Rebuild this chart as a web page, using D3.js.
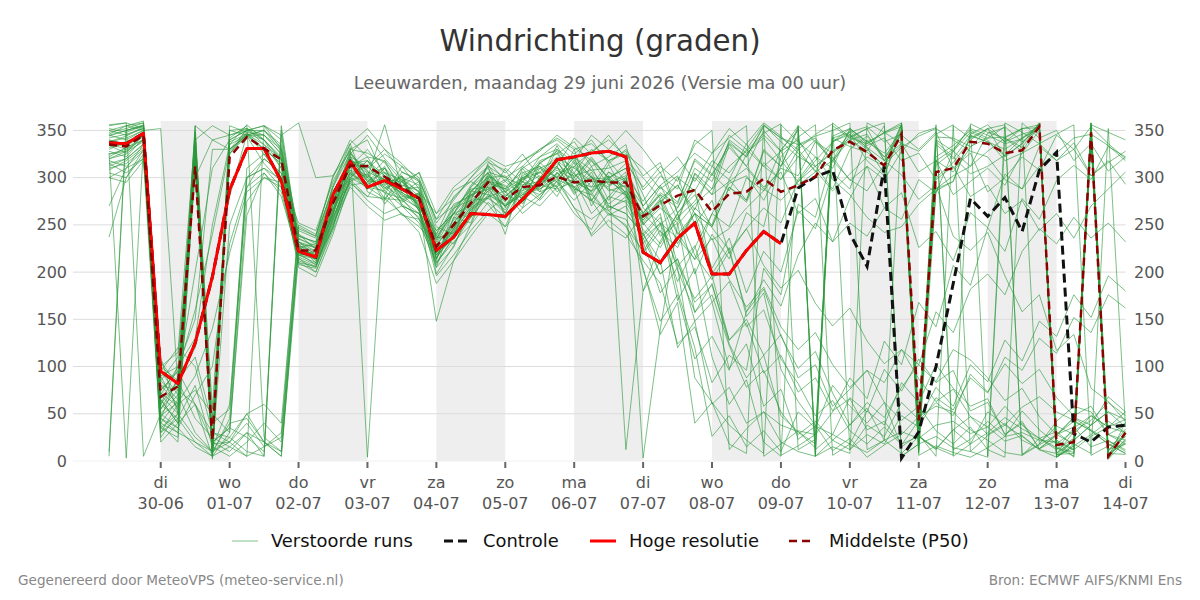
<!DOCTYPE html>
<html>
<head>
<meta charset="utf-8">
<script src="https://cdn.jsdelivr.net/npm/d3@7"></script>
<style>
  body { margin: 0; background: #fff; }
  svg { display: block; font-family: "DejaVu Sans", sans-serif; }
</style>
</head>
<body>
<svg id="chart" width="1200" height="600"></svg>
<script>
// windrichting pluim: ensemble + controle + hres + p50

const titleText = "Windrichting (graden)";
const subtitleText = "Leeuwarden, maandag 29 juni 2026 (Versie ma 00 uur)";
const footLeft = "Gegenereerd door MeteoVPS (meteo-service.nl)";
const footRight = "Bron: ECMWF AIFS/KNMI Ens";

const dayNames = ["zo", "ma", "di", "wo", "do", "vr", "za"];
const yTicks = [0, 50, 100, 150, 200, 250, 300, 350];
// dagen met grijze achtergrond
const shadedDays = ["2026-06-30", "2026-07-02", "2026-07-04", "2026-07-06", "2026-07-08", "2026-07-10", "2026-07-12"];

// eerste tijdstap 29-06 06 uur, elke 6 uur
const firstStep = Date.UTC(2026, 5, 29, 6);
const stepCount = 60;

// Hoge resolutie (tot 09-07 00 uur)
const hres = [337, 336, 347, 95, 82, 125, 195, 287, 331, 331,
  296, 222, 216, 282, 317, 290, 297, 288, 278, 223,
  237, 262, 261, 259, 277, 296, 319, 322, 326, 328,
  322, 221, 210, 236, 252, 198, 198, 223, 243, 230];

// Controle
const controle = [337, 336, 347, 95, 82, 125, 195, 287, 331, 331,
  296, 222, 216, 282, 317, 290, 297, 288, 278, 223,
  237, 262, 261, 259, 277, 296, 319, 322, 326, 328,
  322, 221, 210, 236, 252, 198, 198, 223, 243, 230,
  289, 301, 308, 241, 206, 312, 3, 31, 100, 188,
  278, 259, 279, 243, 308, 327, 29, 20, 36, 38];

// Middelste (P50)
const p50 = [335, 333, 345, 68, 79, 312, 22, 322, 343, 331,
  319, 223, 223, 273, 313, 312, 301, 290, 278, 227,
  250, 273, 295, 277, 290, 292, 301, 295, 297, 295,
  295, 259, 271, 281, 287, 264, 283, 285, 299, 285,
  292, 301, 329, 338, 327, 313, 346, 43, 306, 310,
  338, 336, 326, 329, 354, 17, 20, 348, 5, 30];

// Verstoorde runs, één rij per lid
const members = [
  [338, 342, 350, 72, 58, 330, 12, 340, 350, 340, 320, 228, 210, 262, 322, 296, 312, 270, 262, 208, 238, 285, 305, 268, 300, 285, 318, 290, 275, 306, 288, 250, 272, 300, 286, 318, 305, 330, 312, 298, 322, 340, 316, 345, 330, 312, 352, 18, 335, 320, 345, 338, 330, 342, 356, 12, 24, 350, 6, 28],
  [325, 330, 345, 60, 85, 110, 40, 55, 290, 320, 305, 212, 205, 248, 300, 318, 289, 301, 284, 236, 262, 258, 296, 292, 272, 300, 296, 318, 302, 265, 248, 222, 250, 268, 300, 282, 296, 310, 288, 276, 296, 318, 338, 352, 338, 326, 348, 35, 300, 316, 340, 352, 322, 336, 358, 8, 31, 345, 4, 41],
  [345, 350, 355, 90, 100, 150, 330, 330, 345, 330, 300, 238, 232, 292, 336, 285, 276, 306, 296, 198, 228, 266, 278, 310, 295, 318, 325, 338, 312, 322, 335, 268, 252, 236, 214, 262, 294, 302, 276, 312, 334, 342, 318, 298, 286, 314, 332, 344, 352, 340, 328, 322, 298, 288, 312, 326, 342, 346, 334, 318],
  [310, 315, 330, 45, 30, 20, 10, 25, 50, 20, 5, 225, 218, 262, 312, 330, 305, 282, 266, 218, 245, 290, 312, 256, 280, 270, 290, 262, 245, 280, 300, 232, 178, 205, 88, 62, 38, 22, 8, 356, 338, 322, 298, 282, 258, 242, 248, 272, 288, 302, 312, 328, 342, 352, 18, 42, 58, 52, 28, 22],
  [350, 345, 352, 40, 65, 355, 340, 330, 350, 355, 345, 358, 300, 302, 328, 300, 356, 288, 270, 240, 280, 296, 285, 240, 305, 312, 285, 300, 322, 298, 315, 290, 312, 296, 335, 350, 12, 34, 52, 38, 31, 18, 344, 352, 336, 348, 358, 22, 318, 330, 352, 345, 336, 341, 355, 14, 9, 352, 2, 21],
  [320, 325, 340, 80, 60, 320, 8, 250, 300, 310, 290, 220, 214, 255, 308, 290, 278, 262, 248, 228, 255, 280, 302, 285, 262, 278, 305, 288, 238, 255, 240, 212, 188, 124, 142, 83, 112, 96, 204, 176, 272, 258, 322, 297, 312, 268, 284, 226, 243, 212, 263, 247, 304, 288, 333, 318, 337, 302, 318, 293],
  [300, 310, 320, 110, 50, 345, 15, 335, 345, 345, 330, 246, 238, 300, 340, 322, 318, 296, 305, 252, 276, 300, 318, 296, 318, 330, 340, 325, 340, 315, 330, 302, 316, 262, 288, 198, 226, 153, 178, 97, 63, 38, 11, 24, 4, 17, 28, 47, 58, 52, 33, 22, 9, 6, 17, 28, 46, 33, 21, 12],
  [10, 355, 358, 55, 75, 60, 5, 30, 275, 300, 295, 205, 195, 240, 296, 276, 262, 270, 252, 210, 232, 250, 274, 258, 290, 276, 296, 268, 256, 270, 262, 240, 212, 236, 262, 248, 290, 276, 330, 312, 352, 6, 338, 346, 318, 302, 350, 37, 288, 296, 346, 356, 338, 346, 352, 6, 13, 340, 8, 18],
  [340, 335, 345, 30, 45, 20, 5, 355, 348, 345, 325, 232, 226, 280, 315, 310, 325, 312, 288, 232, 268, 286, 300, 302, 276, 294, 330, 305, 285, 300, 280, 260, 282, 268, 310, 296, 338, 322, 355, 342, 330, 306, 318, 340, 328, 355, 5, 18, 340, 328, 355, 5, 342, 332, 358, 4, 18, 8, 352, 36],
  [330, 338, 348, 100, 85, 120, 200, 280, 346, 335, 310, 226, 218, 270, 330, 340, 300, 278, 268, 196, 218, 244, 265, 280, 298, 305, 312, 342, 325, 345, 320, 282, 238, 252, 157, 188, 124, 88, 112, 48, 31, 14, 358, 343, 352, 318, 303, 277, 292, 238, 223, 242, 196, 158, 176, 117, 134, 77, 63, 42],
  [305, 300, 325, 65, 40, 330, 18, 20, 40, 15, 30, 250, 240, 286, 312, 302, 288, 298, 285, 262, 290, 305, 320, 305, 325, 300, 290, 305, 330, 318, 325, 310, 288, 302, 250, 276, 220, 246, 268, 252, 298, 322, 310, 352, 338, 347, 354, 30, 313, 328, 348, 340, 318, 326, 350, 22, 12, 354, 10, 34],
  [355, 358, 5, 50, 35, 70, 100, 230, 290, 305, 280, 216, 208, 252, 290, 270, 255, 262, 242, 188, 212, 238, 262, 248, 268, 282, 300, 268, 240, 262, 250, 205, 134, 168, 40, 62, 18, 8, 356, 342, 335, 344, 350, 358, 12, 22, 358, 26, 14, 6, 357, 348, 342, 328, 356, 4, 16, 342, 12, 26],
  [315, 320, 335, 85, 110, 300, 340, 345, 350, 350, 335, 235, 228, 276, 318, 312, 330, 315, 296, 256, 270, 282, 296, 288, 310, 322, 336, 318, 345, 330, 350, 330, 305, 322, 296, 326, 342, 355, 5, 18, 32, 28, 52, 88, 66, 127, 102, 168, 142, 207, 186, 247, 222, 278, 256, 297, 313, 298, 333, 322],
  [336, 330, 340, 75, 95, 160, 240, 330, 344, 330, 315, 222, 216, 265, 320, 298, 292, 278, 282, 220, 246, 276, 290, 280, 296, 288, 302, 290, 300, 288, 282, 255, 274, 292, 262, 234, 246, 268, 286, 310, 302, 338, 318, 350, 334, 342, 318, 326, 298, 312, 280, 292, 262, 276, 244, 262, 236, 270, 288, 306],
  [237, 300, 330, 35, 25, 318, 20, 35, 25, 10, 355, 230, 226, 272, 305, 288, 300, 290, 265, 215, 242, 262, 286, 270, 282, 298, 315, 300, 282, 260, 270, 236, 198, 214, 168, 186, 128, 146, 93, 112, 73, 88, 53, 66, 33, 42, 18, 26, 12, 33, 47, 36, 58, 38, 24, 31, 16, 28, 42, 30],
  [270, 310, 335, 50, 70, 30, 10, 40, 45, 20, 5, 215, 200, 244, 292, 295, 284, 260, 256, 205, 226, 268, 280, 262, 275, 292, 288, 296, 286, 302, 12, 180, 233, 262, 198, 240, 214, 263, 248, 322, 343, 356, 6, 18, 9, 22, 31, 24, 38, 42, 29, 36, 21, 27, 12, 8, 22, 38, 52, 44],
  [348, 352, 358, 95, 70, 340, 6, 325, 352, 335, 320, 240, 230, 274, 325, 345, 320, 300, 292, 244, 262, 284, 306, 300, 292, 306, 322, 310, 296, 295, 302, 275, 302, 288, 340, 326, 352, 335, 312, 328, 292, 306, 338, 348, 332, 318, 356, 16, 322, 334, 350, 342, 354, 338, 352, 28, 18, 336, 6, 22],
  [328, 322, 342, 20, 40, 60, 20, 10, 30, 5, 350, 224, 218, 266, 316, 296, 295, 284, 275, 228, 252, 278, 298, 276, 292, 296, 310, 302, 308, 310, 318, 300, 278, 292, 266, 312, 298, 336, 358, 344, 326, 308, 286, 304, 322, 312, 355, 46, 338, 322, 304, 312, 324, 342, 352, 6, 22, 358, 28, 18],
  [342, 346, 352, 45, 90, 200, 310, 340, 350, 355, 340, 232, 222, 278, 318, 305, 310, 292, 286, 222, 246, 272, 294, 288, 300, 310, 318, 322, 300, 298, 290, 262, 243, 226, 268, 250, 298, 276, 328, 312, 354, 12, 28, 18, 53, 38, 83, 62, 102, 77, 58, 66, 28, 40, 13, 22, 4, 358, 12, 18],
  [318, 312, 328, 105, 80, 325, 14, 60, 300, 310, 298, 210, 206, 250, 300, 290, 286, 270, 262, 215, 240, 270, 288, 270, 286, 294, 304, 312, 328, 340, 322, 242, 198, 214, 148, 168, 98, 124, 58, 76, 23, 37, 28, 67, 52, 97, 74, 108, 83, 96, 53, 62, 28, 42, 13, 27, 46, 38, 68, 52],
  [352, 348, 355, 25, 50, 340, 55, 330, 345, 350, 332, 228, 220, 275, 315, 318, 302, 288, 290, 238, 262, 290, 305, 285, 298, 315, 328, 296, 290, 296, 285, 255, 278, 240, 262, 204, 236, 178, 222, 200, 265, 246, 305, 288, 340, 322, 345, 330, 348, 310, 326, 285, 300, 322, 308, 345, 330, 354, 336, 320],
  [332, 336, 344, 60, 45, 80, 15, 5, 20, 40, 20, 244, 236, 290, 332, 4, 282, 312, 300, 248, 240, 262, 316, 308, 282, 290, 312, 284, 306, 270, 262, 240, 262, 180, 120, 26, 48, 15, 32, 10, 52, 35, 80, 58, 40, 62, 15, 28, 5, 355, 342, 352, 356, 6, 24, 12, 35, 48, 36, 30],
  [308, 318, 332, 70, 100, 130, 250, 335, 356, 340, 322, 208, 204, 258, 302, 318, 296, 272, 258, 212, 266, 288, 290, 262, 310, 285, 292, 330, 276, 248, 236, 262, 290, 274, 318, 302, 336, 322, 354, 6, 16, 28, 342, 348, 354, 338, 346, 10, 318, 306, 332, 352, 338, 352, 356, 4, 16, 344, 2, 32],
  [345, 340, 350, 85, 65, 350, 22, 338, 346, 340, 310, 218, 222, 268, 294, 280, 305, 298, 268, 238, 230, 258, 280, 286, 268, 316, 326, 296, 318, 292, 300, 235, 252, 206, 228, 168, 190, 142, 160, 108, 82, 48, 64, 32, 18, 36, 17, 43, 62, 48, 92, 73, 103, 82, 97, 67, 48, 58, 28, 38],
  [325, 328, 338, 55, 85, 45, 25, 15, 5, 355, 330, 230, 212, 246, 318, 308, 272, 296, 280, 205, 258, 282, 272, 248, 292, 302, 280, 312, 290, 318, 296, 270, 292, 306, 326, 312, 345, 330, 356, 338, 322, 312, 328, 342, 352, 358, 5, 18, 26, 14, 10, 4, 358, 348, 336, 346, 356, 6, 16, 26],
  [338, 344, 354, 40, 30, 335, 2, 325, 347, 325, 300, 252, 244, 296, 330, 326, 316, 290, 306, 262, 278, 300, 322, 312, 318, 328, 345, 332, 318, 300, 310, 252, 276, 208, 172, 196, 128, 150, 112, 134, 88, 102, 58, 76, 96, 83, 118, 102, 158, 136, 182, 198, 176, 222, 246, 230, 258, 236, 252, 232],
  [315, 305, 320, 30, 60, 75, 50, 30, 260, 305, 285, 214, 206, 254, 298, 280, 278, 276, 262, 210, 236, 258, 282, 270, 282, 288, 298, 290, 276, 265, 280, 3, 140, 250, 272, 288, 312, 328, 347, 357, 12, 23, 342, 333, 327, 313, 357, 8, 343, 342, 333, 342, 343, 352, 353, 7, 8, 357, 8, 7],
  [334, 326, 346, 65, 40, 312, 5, 350, 345, 350, 328, 226, 216, 262, 312, 292, 310, 284, 272, 224, 248, 268, 302, 290, 306, 290, 318, 288, 282, 306, 296, 263, 282, 242, 213, 236, 192, 163, 184, 142, 118, 136, 102, 78, 96, 62, 43, 58, 32, 18, 36, 12, 4, 358, 342, 350, 318, 336, 307, 322],
  [350, 355, 360, 80, 75, 355, 18, 342, 355, 25, 10, 236, 226, 282, 308, 300, 290, 274, 284, 234, 272, 280, 294, 274, 302, 312, 300, 322, 308, 286, 292, 202, 148, 176, 108, 132, 96, 158, 192, 164, 218, 252, 232, 278, 312, 298, 328, 347, 353, 12, 23, 42, 26, 53, 33, 18, 32, 43, 62, 48],
  [322, 332, 340, 90, 55, 315, 20, 35, 300, 320, 305, 222, 214, 260, 326, 306, 298, 296, 276, 218, 244, 266, 286, 296, 280, 296, 308, 298, 262, 280, 274, 245, 226, 258, 275, 304, 286, 325, 345, 328, 355, 5, 22, 12, 38, 26, 62, 44, 78, 58, 102, 84, 128, 106, 148, 132, 176, 152, 196, 180],
  [356, 358, 352, 75, 95, 60, 30, 25, 10, 5, 345, 238, 232, 284, 322, 312, 294, 300, 268, 244, 262, 292, 310, 280, 296, 322, 330, 316, 300, 290, 306, 180, 212, 120, 148, 60, 78, 40, 52, 20, 10, 5, 355, 342, 336, 348, 356, 6, 16, 9, 4, 14, 26, 30, 22, 20, 12, 26, 36, 44],
  [312, 320, 336, 60, 100, 322, 10, 328, 348, 330, 315, 220, 208, 256, 304, 294, 300, 282, 274, 214, 252, 276, 278, 266, 290, 282, 296, 276, 296, 272, 286, 262, 284, 272, 320, 304, 332, 312, 290, 306, 262, 278, 232, 252, 238, 268, 256, 298, 284, 328, 312, 347, 353, 7, 18, 37, 28, 48, 36, 52],
  [340, 332, 348, 48, 62, 90, 140, 220, 285, 300, 290, 210, 200, 248, 298, 304, 284, 278, 256, 226, 236, 262, 300, 282, 274, 300, 318, 304, 284, 262, 256, 220, 244, 190, 226, 262, 248, 300, 286, 330, 350, 5, 15, 8, 358, 348, 336, 328, 346, 356, 10, 27, 38, 57, 68, 52, 43, 32, 18, 8],
  [5, 350, 355, 35, 50, 25, 10, 20, 50, 60, 40, 248, 238, 302, 336, 352, 330, 306, 298, 256, 286, 296, 312, 300, 312, 330, 342, 330, 336, 318, 328, 287, 306, 263, 282, 247, 223, 246, 207, 183, 202, 167, 143, 162, 127, 103, 118, 87, 63, 76, 47, 28, 40, 22, 13, 28, 42, 32, 18, 8],
  [300, 295, 318, 100, 115, 345, 45, 326, 344, 315, 295, 218, 214, 262, 306, 290, 310, 276, 284, 214, 258, 252, 300, 262, 296, 278, 306, 286, 312, 276, 298, 250, 268, 252, 305, 288, 340, 326, 342, 318, 296, 312, 288, 330, 344, 322, 336, 306, 318, 282, 296, 310, 292, 326, 336, 318, 330, 302, 316, 328],
  [326, 3, 334, 45, 35, 15, 5, 15, 30, 20, 10, 226, 230, 276, 300, 314, 286, 302, 264, 236, 242, 282, 288, 298, 286, 316, 300, 322, 270, 302, 284, 238, 258, 202, 158, 176, 122, 78, 96, 52, 28, 42, 22, 38, 62, 46, 78, 102, 84, 118, 107, 88, 64, 77, 47, 28, 36, 15, 22, 10],
  [344, 350, 356, 70, 50, 348, 12, 350, 352, 345, 325, 240, 224, 290, 326, 300, 318, 284, 296, 240, 268, 276, 314, 284, 312, 298, 334, 300, 320, 300, 310, 270, 292, 255, 304, 282, 335, 312, 350, 328, 340, 312, 326, 346, 332, 304, 350, 12, 286, 296, 344, 338, 323, 336, 357, 8, 23, 352, 5, 23],
  [335, 338, 345, 95, 120, 100, 30, 20, 5, 15, 25, 228, 222, 272, 312, 322, 292, 302, 270, 148, 212, 250, 292, 270, 300, 306, 290, 316, 276, 298, 282, 230, 252, 170, 204, 110, 60, 86, 20, 5, 355, 338, 326, 340, 346, 318, 334, 20, 356, 5, 18, 30, 46, 34, 24, 14, 5, 356, 348, 340],
  [320, 328, 344, 38, 20, 336, 8, 45, 310, 325, 300, 218, 210, 258, 296, 304, 278, 296, 266, 218, 236, 286, 282, 272, 284, 292, 312, 282, 302, 268, 276, 258, 276, 230, 262, 248, 290, 274, 316, 298, 330, 346, 357, 12, 28, 18, 48, 36, 67, 54, 88, 72, 110, 96, 130, 114, 152, 136, 176, 162],
  [346, 355, 350, 352, 80, 340, 355, 345, 352, 340, 318, 232, 218, 266, 318, 296, 306, 280, 282, 230, 262, 270, 304, 288, 278, 310, 300, 296, 286, 314, 282, 252, 230, 262, 218, 192, 222, 158, 182, 132, 98, 116, 72, 38, 56, 22, 8, 26, 13, 33, 18, 52, 38, 26, 12, 4, 22, 38, 52, 36]
];

const svg = d3.select("#chart");
const W = 1200, H = 600;
const plotLeft = 73, plotRight = 1125.5, plotTop = 121, plotBottom = 461;

const times = d3.range(stepCount).map(i => d3.utcHour.offset(new Date(firstStep), i * 6));

const x = d3.scaleUtc()
  .domain([new Date(Date.UTC(2026, 5, 29)), new Date(Date.UTC(2026, 6, 14))])
  .range([91.8, plotRight]);
const y = d3.scaleLinear().domain([0, 360]).range([plotBottom, plotTop]);

// titel
svg.append("text")
  .attr("x", W / 2).attr("y", 51)
  .attr("text-anchor", "middle")
  .attr("font-size", 29.3).attr("fill", "#333")
  .text(titleText);
svg.append("text")
  .attr("x", W / 2).attr("y", 89)
  .attr("text-anchor", "middle")
  .attr("font-size", 17.8).attr("fill", "#666")
  .text(subtitleText);

// grijze dagen
svg.append("g")
  .selectAll("rect")
  .data(shadedDays)
  .join("rect")
  .attr("x", d => x(new Date(d + "T00:00:00Z")))
  .attr("width", d => x(d3.utcDay.offset(new Date(d + "T00:00:00Z"), 1)) - x(new Date(d + "T00:00:00Z")))
  .attr("y", plotTop)
  .attr("height", plotBottom - plotTop)
  .attr("fill", "#eeeeee");

// horizontale rasterlijnen
svg.append("g")
  .selectAll("line")
  .data(yTicks)
  .join("line")
  .attr("x1", plotLeft).attr("x2", plotRight)
  .attr("y1", d => y(d)).attr("y2", d => y(d))
  .attr("stroke", d => d === 0 ? "#f0f0f0" : "#dcdcdc")
  .attr("stroke-width", 1);

// y labels links en rechts
const yl = svg.append("g").attr("font-size", 16).attr("fill", "#555");
yl.selectAll("text.l")
  .data(yTicks).join("text")
  .attr("class", "l")
  .attr("x", 67).attr("y", d => y(d)).attr("dy", "0.35em")
  .attr("text-anchor", "end")
  .text(d => d);
yl.selectAll("text.r")
  .data(yTicks).join("text")
  .attr("class", "r")
  .attr("x", 1134).attr("y", d => y(d)).attr("dy", "0.35em")
  .attr("text-anchor", "start")
  .text(d => d);

// x as: dagen
const dayTicks = d3.utcDay.range(new Date(Date.UTC(2026, 5, 30)), new Date(Date.UTC(2026, 6, 14, 1)));
const xa = svg.append("g");
xa.selectAll("line")
  .data(dayTicks).join("line")
  .attr("x1", d => x(d)).attr("x2", d => x(d))
  .attr("y1", plotBottom + 1).attr("y2", plotBottom + 7)
  .attr("stroke", "#666").attr("stroke-width", 2);
xa.selectAll("text.day")
  .data(dayTicks).join("text")
  .attr("class", "day")
  .attr("x", d => x(d)).attr("y", 488)
  .attr("text-anchor", "middle")
  .attr("font-size", 16).attr("fill", "#555")
  .text(d => dayNames[d.getUTCDay()]);
xa.selectAll("text.date")
  .data(dayTicks).join("text")
  .attr("class", "date")
  .attr("x", d => x(d)).attr("y", 509)
  .attr("text-anchor", "middle")
  .attr("font-size", 16).attr("fill", "#555")
  .text(d => d3.utcFormat("%d-%m")(d));

const line = d3.line()
  .x((d, i) => x(times[i]))
  .y(d => y(d));

// verstoorde runs
svg.append("g")
  .selectAll("path")
  .data(members)
  .join("path")
  .attr("d", line)
  .attr("fill", "none")
  .attr("stroke", "#2b9a3c")
  .attr("stroke-opacity", 0.62)
  .attr("stroke-width", 1);

// controle
svg.append("path")
  .attr("d", line(controle))
  .attr("fill", "none")
  .attr("stroke", "#111")
  .attr("stroke-width", 3)
  .attr("stroke-dasharray", "9,5");

// hoge resolutie
svg.append("path")
  .attr("d", line(hres))
  .attr("fill", "none")
  .attr("stroke", "#ff0000")
  .attr("stroke-width", 3)
  .attr("stroke-linejoin", "round");

// p50
svg.append("path")
  .attr("d", line(p50))
  .attr("fill", "none")
  .attr("stroke", "#8b0000")
  .attr("stroke-width", 2.5)
  .attr("stroke-dasharray", "8,5");

// legenda
const legendItems = [
  { label: "Verstoorde runs", color: "#2b9a3c", width: 1, dash: null, opacity: 0.6, x: 232 },
  { label: "Controle", color: "#111", width: 3, dash: "9,5", opacity: 1, x: 444 },
  { label: "Hoge resolutie", color: "#ff0000", width: 3, dash: null, opacity: 1, x: 590 },
  { label: "Middelste (P50)", color: "#8b0000", width: 2.5, dash: "8,5", opacity: 1, x: 789 }
];
const lg = svg.append("g").selectAll("g").data(legendItems).join("g")
  .attr("transform", d => `translate(${d.x},541)`);
lg.append("line")
  .attr("x1", 0).attr("x2", 26)
  .attr("stroke", d => d.color)
  .attr("stroke-width", d => d.width)
  .attr("stroke-opacity", d => d.opacity)
  .attr("stroke-dasharray", d => d.dash);
lg.append("text")
  .attr("x", d => d.label === "Middelste (P50)" ? 40 : 39)
  .attr("y", 6)
  .attr("font-size", 17.9).attr("fill", "#111")
  .text(d => d.label);

// voettekst
svg.append("text")
  .attr("x", 18).attr("y", 585)
  .attr("font-size", 13.6).attr("fill", "#888")
  .text(footLeft);
svg.append("text")
  .attr("x", 1182).attr("y", 585)
  .attr("text-anchor", "end")
  .attr("font-size", 13.6).attr("fill", "#888")
  .text(footRight);
</script>
</body>
</html>
